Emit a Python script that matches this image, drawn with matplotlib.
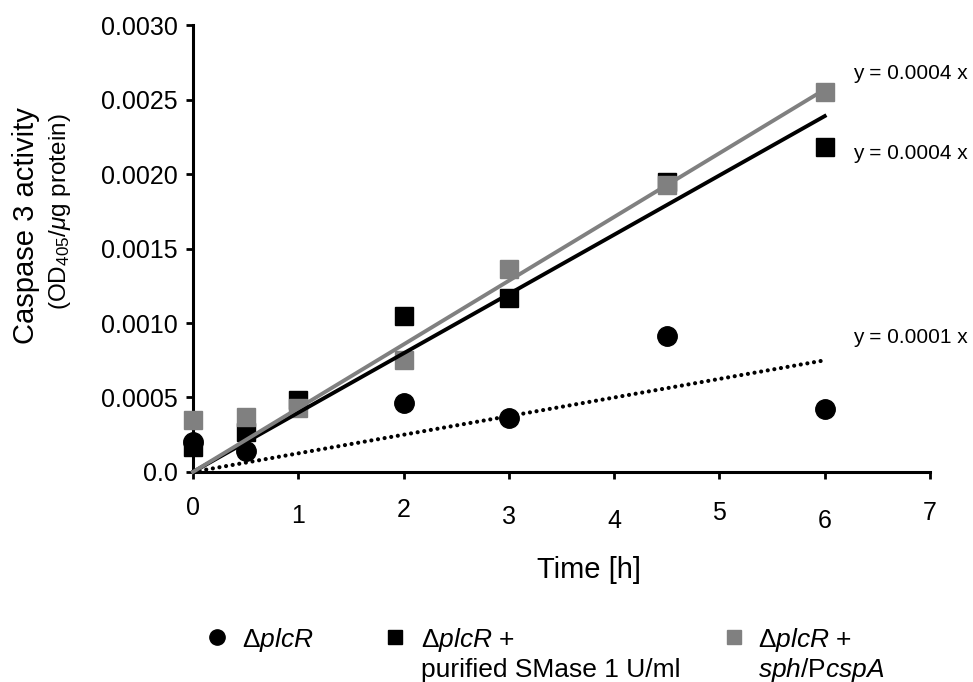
import numpy as np
import matplotlib
matplotlib.use('Agg')
import matplotlib.pyplot as plt
from matplotlib.lines import Line2D
from matplotlib.transforms import ScaledTranslation

plt.rcParams['font.family'] = ['Liberation Sans', 'DejaVu Sans']
plt.rcParams['mathtext.fontset'] = 'custom'
plt.rcParams['mathtext.rm'] = 'Liberation Sans'
plt.rcParams['mathtext.it'] = 'Liberation Sans:italic'

# data
time_h = [0, 0.5, 1, 2, 3, 4.5, 6]
plcr = [0.00020, 0.00014, np.nan, 0.00046, 0.00036, 0.00091, 0.00042]
plcr_smase = [0.00017, 0.00027, 0.00048, 0.00105, 0.00117, 0.00195, 0.00218]
plcr_sph = [0.00035, 0.00037, 0.00043, 0.00075, 0.00136, 0.00193, 0.00255]
x_ticks = [0, 1, 2, 3, 4, 5, 6, 7]
y_ticks = [0.0, 0.0005, 0.0010, 0.0015, 0.0020, 0.0025, 0.0030]
y_ticklabels = ['0.0', '0.0005', '0.0010', '0.0015', '0.0020', '0.0025', '0.0030']
eq_labels = ['y = 0.0001 x', 'y = 0.0004 x', 'y = 0.0004 x']


def slope_through_origin(x, y):
    x = np.asarray(x, float)
    y = np.asarray(y, float)
    ok = ~np.isnan(y)
    return np.sum(x[ok] * y[ok]) / np.sum(x[ok] ** 2)


fig = plt.figure(figsize=(9.73, 6.82), dpi=100)
ax = fig.add_axes([193 / 973, 0.308, 737 / 973, 0.655])

gray = '#808080'
ax.plot(time_h, plcr, 'o', color='black', ms=14, zorder=3)
ax.plot(time_h, plcr_smase, 's', color='black', ms=13, zorder=3)
ax.plot(time_h, plcr_sph, 's', color=gray, ms=13, zorder=3)

# trend lines through the origin
xs = np.array([0, time_h[-1]])
k1 = slope_through_origin(time_h, plcr)
k2 = slope_through_origin(time_h, plcr_smase)
k3 = slope_through_origin(time_h, plcr_sph)
ax.plot(xs, k1 * xs, color='black', lw=3.0, linestyle=(0, (0.01, 1.6)),
        dash_capstyle='round', zorder=4)
ax.plot(xs, k2 * xs, color='black', lw=2.8, zorder=4)
ax.plot(xs, k3 * xs, color=gray, lw=2.8, zorder=4)

ax.set_xlim(0, 7)
ax.set_ylim(0, 0.003)
ax.set_xticks(x_ticks)
ax.set_yticks(y_ticks)
ax.set_yticklabels(y_ticklabels)
ax.spines['top'].set_visible(False)
ax.spines['right'].set_visible(False)
for s in ['left', 'bottom']:
    ax.spines[s].set_linewidth(2.2)
ax.tick_params(width=2.0, length=5, labelsize=18, pad=6)
ax.tick_params(axis='x', pad=12)
for line in ax.lines:
    line.set_clip_on(False)

# x tick labels are staggered in the original
offsets_px = [0, 8, 2, 9, 13, 5, 13, 5]
for lab, dy in zip(ax.get_xticklabels(), offsets_px):
    lab.set_transform(lab.get_transform() + ScaledTranslation(0, -dy / 100, fig.dpi_scale_trans))

# equation labels
eq_y = [0.000906, 0.00214, 0.002678]
for yy, txt in zip(eq_y, eq_labels):
    ax.text(6.27, yy, txt, fontsize=15, va='center', ha='left', clip_on=False)

# axis titles
fig.text(589 / 973, 1 - 570 / 682, 'Time [h]', fontsize=21, ha='center', va='center')
fig.text(26 / 973, 1 - 226 / 682, 'Caspase 3 activity', fontsize=21, rotation=90,
         ha='center', va='center')
fig.text(60 / 973, 1 - 212 / 682, r'(OD$_{405}$/$\mu$g protein)', fontsize=17.5, rotation=90,
         ha='center', va='center')

# legend
leg_y = 1 - 640 / 682
leg_y2 = 1 - 670 / 682
items = [
    (217, 242, 'o', 'black', [r'Δ$\mathit{plcR}$']),
    (395, 421, 's', 'black', [r'Δ$\mathit{plcR}$ +', 'purified SMase 1 U/ml']),
    (734, 758, 's', gray, [r'Δ$\mathit{plcR}$ +', r'$\mathit{sph}$/P$\mathit{cspA}$']),
]
for mx, tx, mk, col, lines in items:
    fig.add_artist(Line2D([mx / 973], [1 - 637 / 682], marker=mk, color=col,
                          ms=11 if mk == 'o' else 10.5,
                          linestyle='none', transform=fig.transFigure))
    fig.text(tx / 973, leg_y, lines[0], fontsize=19, ha='left', va='center')
    if len(lines) > 1:
        fig.text(tx / 973, leg_y2, lines[1], fontsize=19, ha='left', va='center')

fig.savefig('out.png', dpi=100)
